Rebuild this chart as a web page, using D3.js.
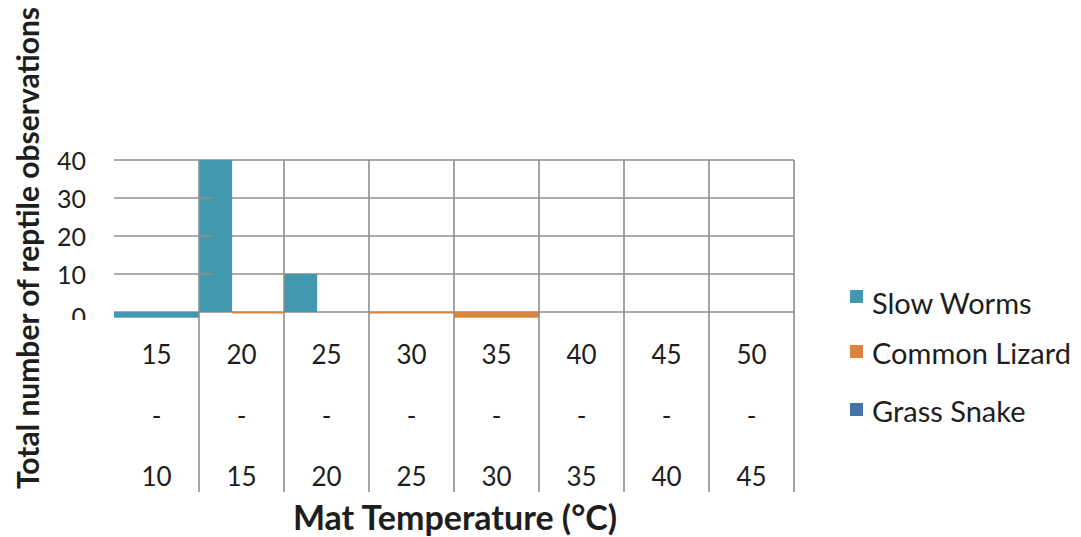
<!DOCTYPE html>
<html>
<head>
<meta charset="utf-8">
<script src="https://cdn.jsdelivr.net/npm/d3@7"></script>
<style>
  html, body { margin: 0; padding: 0; background: #fff; }
  svg { display: block; }
  text { font-family: Lato, "Open Sans", sans-serif; fill: #1e1e1e; }
</style>
</head>
<body>
<svg id="chart" width="1081" height="537"></svg>
<script>
// ---- data ----
const topLabels    = ["15", "20", "25", "30", "35", "40", "45", "50"];
const bottomLabels = ["10", "15", "20", "25", "30", "35", "40", "45"];
const seriesNames  = ["Slow Worms", "Common Lizard", "Grass Snake"];
const slowWorms     = [-1.5, 40, 10, null, null, null, null, null];
const commonLizard  = [null, -0.4, 0, -0.4, -1.5, null, null, null];
const grassSnake    = [null, null, null, null, null, null, null, null];
const yTicks = [0, 10, 20, 30, 40];
const colors = ["#4198AF", "#DB843D", "#4572A7"];

const svg = d3.select("#chart");
const plot = { left: 114, right: 794, top: 160, bottom: 312 };

const x = d3.scaleBand().domain(d3.range(topLabels.length))
  .range([plot.left, plot.right]).padding(0);
const y = d3.scaleLinear().domain([0, 40]).range([plot.bottom, plot.top]);

const gridColor = "#8f8f8f";
const series = [slowWorms, commonLizard, grassSnake];

// horizontal gridlines (behind bars)
svg.append("g").selectAll("line").data(yTicks).join("line")
  .attr("x1", plot.left).attr("x2", plot.right)
  .attr("y1", d => y(d)).attr("y2", d => y(d))
  .attr("stroke", gridColor).attr("stroke-width", 1.6);

// bars: within a category, present series share the width
const firstShare = 0.39;
const bars = [];
topLabels.forEach((_, i) => {
  const present = series.map((s, k) => ({ k, v: s[i] })).filter(d => d.v !== null);
  present.forEach((d, j) => {
    let f0 = 0, f1 = 1;
    if (present.length > 1) {
      f0 = j === 0 ? 0 : firstShare;
      f1 = j === 0 ? firstShare : 1;
    }
    bars.push({ i, k: d.k, v: d.v, f0, f1 });
  });
});
svg.append("g").selectAll("rect").data(bars).join("rect")
  .attr("x", d => x(d.i) + d.f0 * x.bandwidth())
  .attr("width", d => (d.f1 - d.f0) * x.bandwidth())
  .attr("y", d => Math.min(y(0), y(d.v)))
  .attr("height", d => Math.abs(y(d.v) - y(0)))
  .attr("fill", d => colors[d.k]);

// vertical category lines (extend through label area)
const bounds = d3.range(1, topLabels.length + 1).map(i => plot.left + i * x.bandwidth());
svg.append("g").selectAll("line").data(bounds).join("line")
  .attr("x1", d => d).attr("x2", d => d)
  .attr("y1", plot.top).attr("y2", 492)
  .attr("stroke", gridColor).attr("stroke-width", 1.6);

// value axis crossing at second category, with inside ticks
const axisX = x(1);
svg.append("g").selectAll("line").data(yTicks.filter(d => d > 0 && d < 40)).join("line")
  .attr("x1", axisX).attr("x2", axisX + 15)
  .attr("y1", d => y(d)).attr("y2", d => y(d))
  .attr("stroke", gridColor).attr("stroke-width", 1.6);

// y tick labels
svg.append("defs").append("clipPath").attr("id", "yclip")
  .append("rect").attr("x", 0).attr("y", 0).attr("width", 120).attr("height", 320);
svg.append("g").attr("clip-path", "url(#yclip)")
  .selectAll("text").data(yTicks).join("text")
  .attr("x", 86).attr("y", d => d === 0 ? y(d) + 4 : y(d))
  .attr("text-anchor", "end").attr("dominant-baseline", "central")
  .style("font-size", "25px")
  .text(d => d);

// category labels (three lines)
const catG = svg.append("g").selectAll("g").data(topLabels).join("g")
  .attr("transform", (d, i) => `translate(${x(i) + x.bandwidth() / 2},0)`);
catG.append("text").attr("y", 354).attr("text-anchor", "middle")
  .attr("dominant-baseline", "central").style("font-size", "26px").text(d => d);
catG.append("text").attr("y", 415).attr("text-anchor", "middle")
  .attr("dominant-baseline", "central").style("font-size", "26px").text("-");
catG.append("text").attr("y", 476).attr("text-anchor", "middle")
  .attr("dominant-baseline", "central").style("font-size", "26px")
  .text((d, i) => bottomLabels[i]);

// axis titles
svg.append("text").attr("x", 455).attr("y", 516)
  .attr("text-anchor", "middle").attr("dominant-baseline", "central")
  .style("font-size", "34px").style("font-weight", "bold")
  .text("Mat Temperature (°C)");
svg.append("text")
  .attr("transform", "translate(27,248) rotate(-90)")
  .attr("text-anchor", "middle").attr("dominant-baseline", "central")
  .style("font-size", "30px").style("font-weight", "bold")
  .text("Total number of reptile observations");

// legend
const legendY = [302, 352, 410];
const lg = svg.append("g").selectAll("g").data(seriesNames).join("g")
  .attr("transform", (d, i) => `translate(850,${legendY[i]})`);
lg.append("rect").attr("x", 0).attr("y", (d, i) => i === 0 ? -12 : -7)
  .attr("width", 13).attr("height", 13).attr("fill", (d, i) => colors[i]);
lg.append("text").attr("x", 22).attr("y", 0)
  .attr("dominant-baseline", "central").style("font-size", "29px")
  .text(d => d);
</script>
</body>
</html>
